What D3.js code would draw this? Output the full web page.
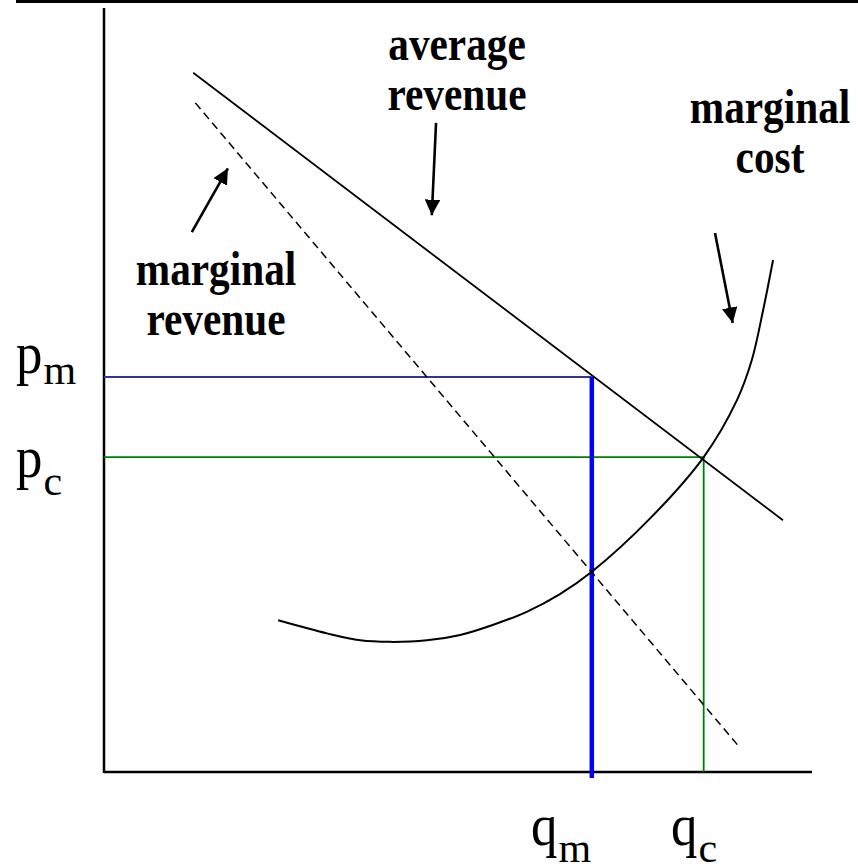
<!DOCTYPE html>
<html>
<head>
<meta charset="utf-8">
<script src="https://cdn.jsdelivr.net/npm/d3@7"></script>
<style>
  html, body { margin: 0; padding: 0; background: #fff; }
  svg { display: block; }
</style>
</head>
<body>
<script>
// Monopoly vs competition diagram (quantity on x, price on y, both 0..100)
const averageRevenue = [[12.6, 90.8], [95.9, 32.7]];
const marginalRevenue = [[12.9, 86.9], [89.5, 3.5]];
const marginalCost = [
  [24.6, 19.7], [31.5, 18.0], [36.2, 17.1], [40.4, 16.9], [45.6, 17.1],
  [50.3, 17.8], [54.9, 19.1], [59.7, 20.8], [64.4, 23.1], [68.9, 26.0],
  [77.1, 32.9], [84.7, 40.9], [89.4, 48.3], [91.5, 53.5], [93.1, 60.0],
  [94.5, 66.5]
];
const qm = 68.9, pm = 51.3;   // monopoly quantity / price
const qc = 84.7, pc = 40.9;   // competitive quantity / price

// arrows pointing at the curves: [from, to]
const arrows = [
  [[46.9, 84.3], [46.3, 72.3]],   // average revenue
  [[12.4, 70.1], [17.5, 78.4]],   // marginal revenue
  [[86.3, 70.0], [88.8, 58.3]]    // marginal cost
];

const curveLabels = [
  { lines: ['average', 'revenue'], x: 457, y: 60 },
  { lines: ['marginal', 'revenue'], x: 216, y: 285 },
  { lines: ['marginal', 'cost'], x: 770, y: 123 }
];
const axisLabels = [
  { main: 'p', sub: 'm', x: 16, y: 373, subY: 384 },
  { main: 'p', sub: 'c', x: 16, y: 477, subY: 495 },
  { main: 'q', sub: 'm', x: 531, y: 845, subY: 862 },
  { main: 'q', sub: 'c', x: 671, y: 845, subY: 862 }
];

const serif = '"Liberation Serif", "Times New Roman", serif';

const width = 858, height = 866;
const svg = d3.select('body').append('svg')
  .attr('width', width)
  .attr('height', height)
  .style('font-family', serif);

const x = d3.scaleLinear().domain([0, 100]).range([104, 812]);
const y = d3.scaleLinear().domain([0, 100]).range([772, 2]);

// arrow head
svg.append('defs').append('marker')
  .attr('id', 'head')
  .attr('viewBox', '0 0 10 10')
  .attr('refX', 10).attr('refY', 5)
  .attr('markerWidth', 6).attr('markerHeight', 6)
  .attr('markerUnits', 'strokeWidth')
  .attr('orient', 'auto')
  .append('path')
  .attr('d', 'M0,0 L10,5 L0,10 Z')
  .attr('fill', '#000');

// slide rule at the very top
svg.append('line')
  .attr('x1', 16).attr('x2', width)
  .attr('y1', 1.5).attr('y2', 1.5)
  .attr('stroke', '#000').attr('stroke-width', 3);

// axes (plain lines, no ticks)
svg.append('line')
  .attr('x1', x(0)).attr('x2', x(0))
  .attr('y1', 8).attr('y2', y(0) + 1)
  .attr('stroke', '#000').attr('stroke-width', 2.5);
svg.append('line')
  .attr('x1', x(0)).attr('x2', x(100))
  .attr('y1', y(0)).attr('y2', y(0))
  .attr('stroke', '#000').attr('stroke-width', 2.5);

// guide lines for monopoly and competitive outcomes
svg.append('line')
  .attr('x1', x(0)).attr('x2', x(qm))
  .attr('y1', y(pm)).attr('y2', y(pm))
  .attr('stroke', '#333399').attr('stroke-width', 1.8);
svg.append('line')
  .attr('x1', x(0)).attr('x2', x(qc))
  .attr('y1', y(pc)).attr('y2', y(pc))
  .attr('stroke', '#008000').attr('stroke-width', 1.8);
svg.append('line')
  .attr('x1', x(qc)).attr('x2', x(qc))
  .attr('y1', y(pc)).attr('y2', y(0))
  .attr('stroke', '#008000').attr('stroke-width', 1.8);
svg.append('line')
  .attr('x1', x(qm)).attr('x2', x(qm))
  .attr('y1', y(pm)).attr('y2', y(0) + 6)
  .attr('stroke', '#0000ff').attr('stroke-width', 4.5);

const line = d3.line().x(d => x(d[0])).y(d => y(d[1]));

svg.append('path')
  .attr('d', line(averageRevenue))
  .attr('fill', 'none').attr('stroke', '#000').attr('stroke-width', 1.8);

svg.append('path')
  .attr('d', line(marginalRevenue))
  .attr('fill', 'none').attr('stroke', '#000').attr('stroke-width', 1.5)
  .attr('stroke-dasharray', '8,5');

svg.append('path')
  .attr('d', line.curve(d3.curveCatmullRom.alpha(0.5))(marginalCost))
  .attr('fill', 'none').attr('stroke', '#000').attr('stroke-width', 2);

svg.selectAll('.arrow')
  .data(arrows)
  .join('line')
  .attr('class', 'arrow')
  .attr('x1', d => x(d[0][0])).attr('y1', d => y(d[0][1]))
  .attr('x2', d => x(d[1][0])).attr('y2', d => y(d[1][1]))
  .attr('stroke', '#000').attr('stroke-width', 2.6)
  .attr('marker-end', 'url(#head)');

// bold curve names, slightly condensed like the original slide
curveLabels.forEach(l => {
  const g = svg.append('g')
    .attr('transform', `translate(${l.x},${l.y}) scale(0.86,1)`);
  l.lines.forEach((t, i) => {
    g.append('text')
      .attr('x', 0).attr('y', i * 50)
      .attr('text-anchor', 'middle')
      .style('font-family', serif)
      .style('font-size', '48px')
      .style('font-weight', 'bold')
      .text(t);
  });
});

// p_m, p_c, q_m, q_c
axisLabels.forEach(l => {
  const t = svg.append('text')
    .attr('transform', `translate(${l.x},${l.y}) scale(0.88,1)`)
    .style('font-family', serif)
    .style('font-size', '60px')
    .text(l.main);
  const w = t.node().getComputedTextLength() * 0.88;
  svg.append('text')
    .attr('x', l.x + w + 1).attr('y', l.subY)
    .style('font-family', serif)
    .style('font-size', '42px')
    .text(l.sub);
});
</script>
</body>
</html>
